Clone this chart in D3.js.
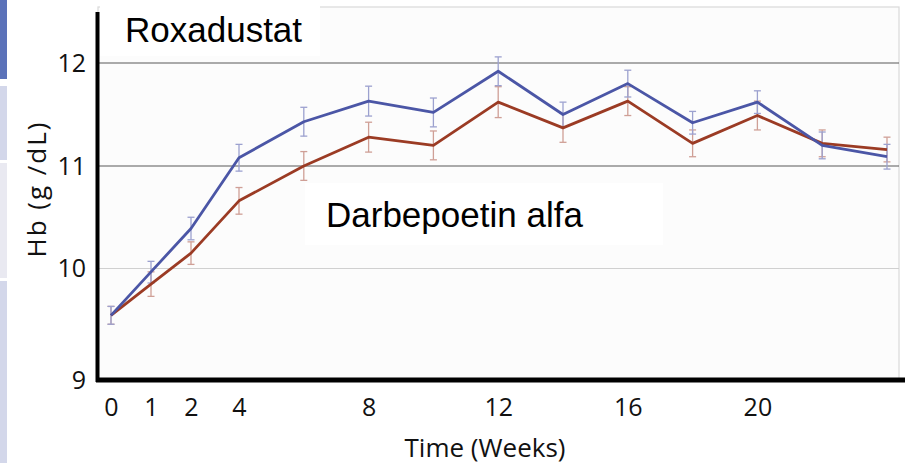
<!DOCTYPE html>
<html>
<head>
<meta charset="utf-8">
<script src="https://cdn.jsdelivr.net/npm/d3@7"></script>
<style>
  html, body { margin: 0; padding: 0; background: #ffffff; }
  svg { display: block; }
</style>
</head>
<body>
<svg id="chart" width="907" height="466"></svg>
<script>
// Study visits (weeks) and mean Hb per arm, with error half-widths
const weeks = [0, 1, 2, 4, 6, 8, 10, 12, 14, 16, 18, 20, 22, 24];
const roxadustat = [9.58, 9.97, 10.39, 11.08, 11.43, 11.63, 11.52, 11.92, 11.50, 11.80, 11.42, 11.62, 11.20, 11.09];
const roxadustatErr = [0.08, 0.10, 0.11, 0.13, 0.14, 0.145, 0.14, 0.14, 0.12, 0.13, 0.11, 0.11, 0.13, 0.12];
const darbepoetin = [9.58, 9.86, 10.15, 10.66, 11.00, 11.28, 11.20, 11.62, 11.37, 11.63, 11.22, 11.49, 11.22, 11.16];
const darbepoetinErr = [0.08, 0.11, 0.11, 0.13, 0.14, 0.145, 0.14, 0.15, 0.14, 0.14, 0.13, 0.14, 0.13, 0.12];
const xTicks = [0, 1, 2, 4, 8, 12, 16, 20];
const yTicks = [9, 10, 11, 12];
const seriesNames = ["Roxadustat", "Darbepoetin alfa"];
const axisTitles = { x: "Time (Weeks)", y: "Hb (g /dL)" };

const svg = d3.select("#chart");

// Slide-side tab strip on the far left
const tabs = [
  { y0: 0, y1: 79, fill: "#5b72b9" },
  { y0: 86, y1: 160, fill: "#d3d7ea" },
  { y0: 163, y1: 278, fill: "#e9e9f1" },
  { y0: 281, y1: 463, fill: "#d3d7ea" }
];
svg.selectAll("rect.tab").data(tabs).join("rect")
  .attr("class", "tab")
  .attr("x", 0).attr("width", 7)
  .attr("y", d => d.y0).attr("height", d => d.y1 - d.y0)
  .attr("fill", d => d.fill);

// Scales: early visits are spread out, then weeks run evenly
const x = d3.scaleLinear().domain([0, 1, 2, 4, 24]).range([111, 151, 191, 239, 887]);
const y = d3.scaleLinear().domain([9, 10, 11, 12, 12.5]).range([380, 268.5, 166, 63, 12]);

const plotLeft = 98, plotRight = 899, plotTop = 7, plotBottom = 380;

// Plot background and frame
svg.append("rect")
  .attr("x", plotLeft).attr("y", plotTop)
  .attr("width", plotRight - plotLeft).attr("height", plotBottom - plotTop)
  .attr("fill", "#fcfcfc")
  .attr("stroke", "#d9d9d9").attr("stroke-width", 1.2);

// Label backdrops
svg.append("rect").attr("x", 100).attr("y", 0).attr("width", 220).attr("height", 56).attr("fill", "#ffffff");
svg.append("rect").attr("x", 305).attr("y", 183).attr("width", 358).attr("height", 62).attr("fill", "#ffffff");

// Horizontal gridlines
const gridColor = v => (v === 10 ? "#d0d0d0" : "#585858");
svg.append("g").selectAll("line").data(yTicks.filter(v => v > 9)).join("line")
  .attr("x1", plotLeft).attr("x2", plotRight)
  .attr("y1", d => y(d)).attr("y2", d => y(d))
  .attr("stroke", gridColor).attr("stroke-width", 1.2);

// Error bars
function errorBars(values, errs, color) {
  const g = svg.append("g").attr("stroke", color).attr("stroke-width", 1.3).attr("fill", "none");
  const pts = weeks.map((w, i) => ({ w, v: values[i], e: errs[i] }));
  g.selectAll("line.v").data(pts).join("line").attr("class", "v")
    .attr("x1", d => x(d.w)).attr("x2", d => x(d.w))
    .attr("y1", d => y(d.v + d.e)).attr("y2", d => y(d.v - d.e));
  g.selectAll("line.t").data(pts).join("line").attr("class", "t")
    .attr("x1", d => x(d.w) - 3.5).attr("x2", d => x(d.w) + 3.5)
    .attr("y1", d => y(d.v + d.e)).attr("y2", d => y(d.v + d.e));
  g.selectAll("line.b").data(pts).join("line").attr("class", "b")
    .attr("x1", d => x(d.w) - 3.5).attr("x2", d => x(d.w) + 3.5)
    .attr("y1", d => y(d.v - d.e)).attr("y2", d => y(d.v - d.e));
}
errorBars(darbepoetin, darbepoetinErr, "#cf9f96");
errorBars(roxadustat, roxadustatErr, "#9ca1cf");

// Mean lines
const line = d3.line().x((d, i) => x(weeks[i])).y(d => y(d));
svg.append("path").datum(darbepoetin)
  .attr("d", line).attr("fill", "none")
  .attr("stroke", "#9b3b24").attr("stroke-width", 2.8).attr("stroke-linejoin", "round");
svg.append("path").datum(roxadustat)
  .attr("d", line).attr("fill", "none")
  .attr("stroke", "#4b56a6").attr("stroke-width", 2.8).attr("stroke-linejoin", "round");

// Axes
const xAxis = d3.axisBottom(x).tickValues(xTicks).tickSize(0).tickPadding(18).tickFormat(d3.format("d"));
const gx = svg.append("g").attr("transform", `translate(0,${plotBottom})`).call(xAxis);
gx.select(".domain").remove();
gx.selectAll("text").attr("font-family", "'Open Sans', sans-serif").attr("font-size", 25).attr("fill", "#111");

const yAxis = d3.axisLeft(y).tickValues(yTicks).tickSize(0).tickPadding(12).tickFormat(d3.format("d"));
const gy = svg.append("g").attr("transform", `translate(${plotLeft},0)`).call(yAxis);
gy.select(".domain").remove();
gy.selectAll("text").attr("font-family", "'Open Sans', sans-serif").attr("font-size", 25).attr("fill", "#111");

// Heavy axis lines
svg.append("line").attr("x1", 96).attr("x2", 905).attr("y1", plotBottom).attr("y2", plotBottom)
  .attr("stroke", "#000").attr("stroke-width", 5);
svg.append("line").attr("x1", 97.5).attr("x2", 97.5).attr("y1", 12).attr("y2", plotBottom + 2)
  .attr("stroke", "#000").attr("stroke-width", 4);

// Axis titles
svg.append("text")
  .attr("x", 485).attr("y", 457)
  .attr("text-anchor", "middle")
  .attr("font-family", "'Open Sans', sans-serif").attr("font-size", 26).attr("fill", "#111")
  .text(axisTitles.x);
svg.append("text")
  .attr("transform", "translate(46,189) rotate(-90)")
  .attr("text-anchor", "middle")
  .attr("letter-spacing", 2)
  .attr("font-family", "'Open Sans', sans-serif").attr("font-size", 26).attr("fill", "#111")
  .text(axisTitles.y);

// Series labels
svg.append("text")
  .attr("x", 125).attr("y", 42)
  .attr("font-family", "'Liberation Sans', Arial, sans-serif").attr("font-size", 35).attr("fill", "#000")
  .text(seriesNames[0]);
svg.append("text")
  .attr("x", 326).attr("y", 227)
  .attr("font-family", "'Liberation Sans', Arial, sans-serif").attr("font-size", 35).attr("fill", "#000")
  .text(seriesNames[1]);
</script>
</body>
</html>
